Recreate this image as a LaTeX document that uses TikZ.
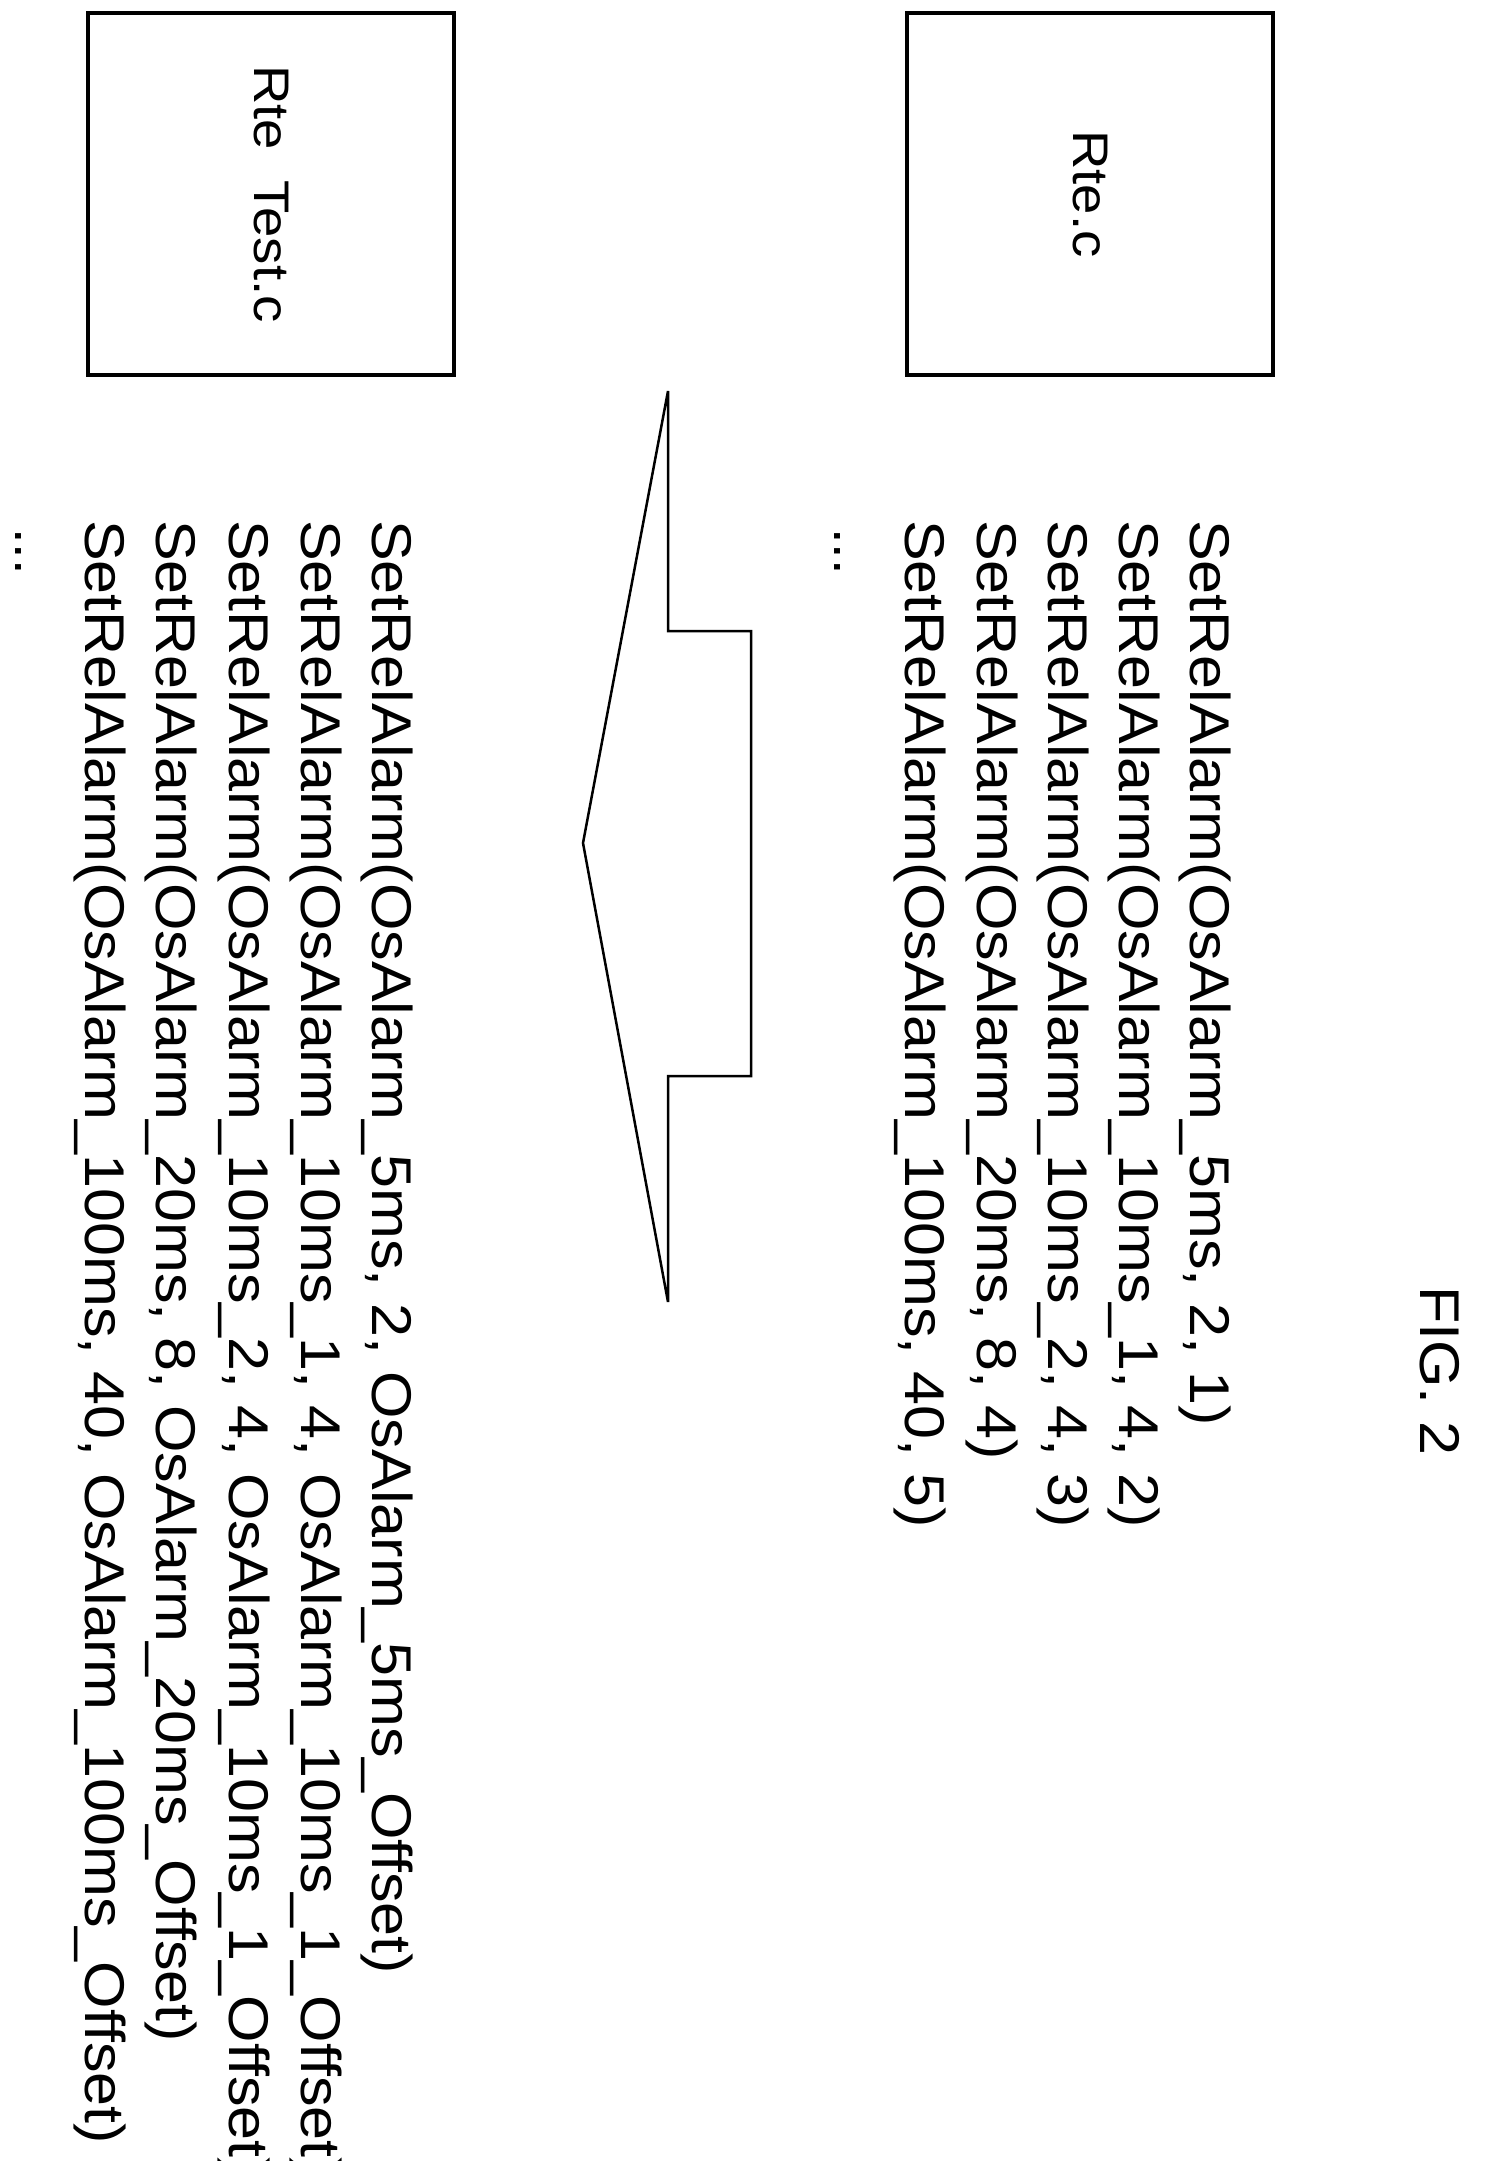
\documentclass[tikz,border=0pt]{standalone}
\usepackage{fontspec}
\setmainfont{Liberation Sans}
\newcommand{\wide}[1]{\scalebox{1.09}[1]{#1}}
\begin{document}
\begin{tikzpicture}[x=1pt,y=-1pt,
  box/.style={draw,line width=4.5pt,minimum width=362pt,minimum height=366pt,font=\fontsize{50}{60}\selectfont},
  code/.style={rotate=-90,anchor=base west,inner sep=0pt,font=\fontsize{56}{66}\selectfont}]
\useasboundingbox (0,0) rectangle (1508,2161);
\node[box,rotate=-90] (rtec) at (1090,194) {\wide{Rte.c}};
\node[box,rotate=-90] (rtet) at (271,194) {\wide{Rte\ \ Test.c}};
\node[rotate=-90,font=\fontsize{56}{66}\selectfont] (fig) at (1440,1371) {\wide{FIG. 2}};
\draw[line width=2.5pt] (668,391) -- (668,631) -- (751,631) -- (751,1076) -- (668,1076) -- (668,1302) -- (583,843) -- cycle;
\node[code] (a1) at (1190,520) {\wide{SetRelAlarm(OsAlarm\_5ms, 2, 1)}};
\node[code] (a2) at (1119,520) {\wide{SetRelAlarm(OsAlarm\_10ms\_1, 4, 2)}};
\node[code] (a3) at (1048,520) {\wide{SetRelAlarm(OsAlarm\_10ms\_2, 4, 3)}};
\node[code] (a4) at (977,520) {\wide{SetRelAlarm(OsAlarm\_20ms, 8, 4)}};
\node[code] (a5) at (905,520) {\wide{SetRelAlarm(OsAlarm\_100ms, 40, 5)}};
\node[code] (a6) at (834,528) {...};
\node[code] (b1) at (372,520) {\wide{SetRelAlarm(OsAlarm\_5ms, 2, OsAlarm\_5ms\_Offset)}};
\node[code] (b2) at (301,520) {\wide{SetRelAlarm(OsAlarm\_10ms\_1, 4, OsAlarm\_10ms\_1\_Offset)}};
\node[code] (b3) at (229,520) {\wide{SetRelAlarm(OsAlarm\_10ms\_2, 4, OsAlarm\_10ms\_1\_Offset)}};
\node[code] (b4) at (156,520) {\wide{SetRelAlarm(OsAlarm\_20ms, 8, OsAlarm\_20ms\_Offset)}};
\node[code] (b5) at (85,520) {\wide{SetRelAlarm(OsAlarm\_100ms, 40, OsAlarm\_100ms\_Offset)}};
\node[code] (b6) at (16,528) {...};
\end{tikzpicture}
\end{document}
